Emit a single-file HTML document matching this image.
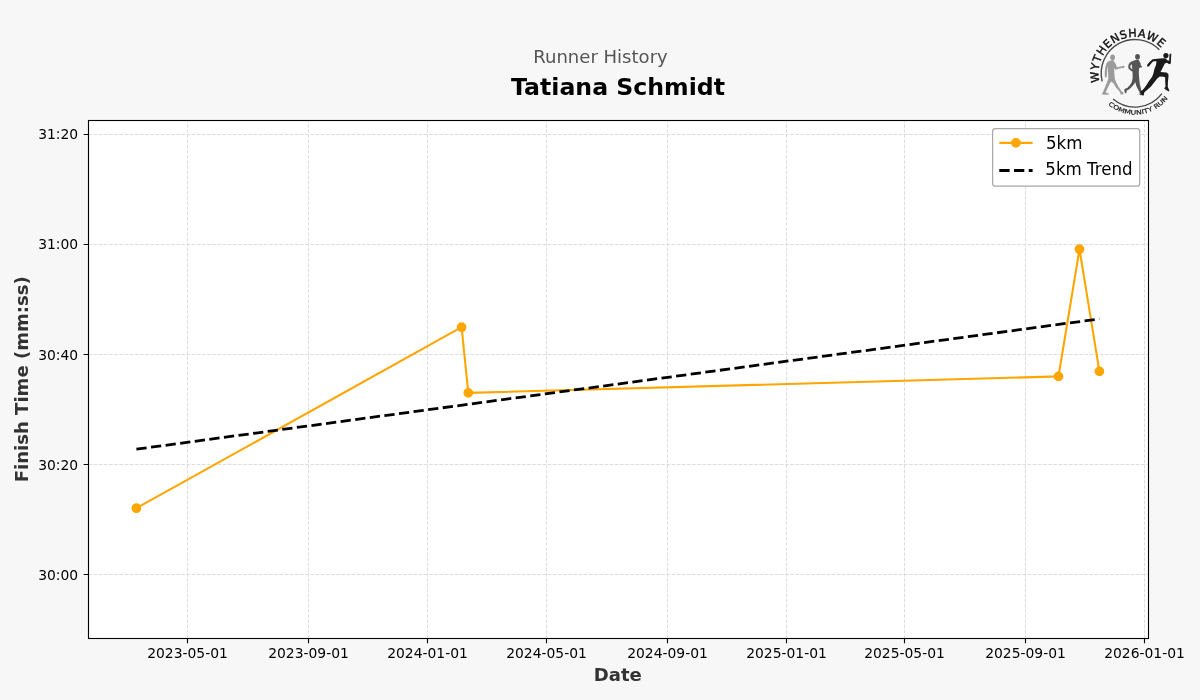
<!DOCTYPE html>
<html><head><meta charset="utf-8"><title>Runner History - Tatiana Schmidt</title>
<style>html,body{margin:0;padding:0;background:#f7f7f7;}svg{display:block;will-change:transform;}</style></head>
<body><svg width="1200" height="700" viewBox="0 0 1200 700">
<rect x="0" y="0" width="1200" height="700" fill="#f7f7f7"/>
<rect x="88.5" y="120.5" width="1060.0" height="518.0" fill="#fff"/>
<path d="M187.5 638.5V120.5M308.5 638.5V120.5M427.5 638.5V120.5M546.5 638.5V120.5M667.5 638.5V120.5M786.5 638.5V120.5M904.5 638.5V120.5M1025.5 638.5V120.5M1144.5 638.5V120.5M88.5 134.5H1148.5M88.5 244.5H1148.5M88.5 354.5H1148.5M88.5 464.5H1148.5M88.5 574.5H1148.5" stroke="#dcdcdc" stroke-width="0.97" stroke-dasharray="3.6 1.56" fill="none"/>
<path d="M136.4 508.2 L461.6 327.2 L468.3 392.9 L1058.5 376.4 L1079.5 249.2 L1099.4 371.4" stroke="#ffa500" stroke-width="2.08" fill="none" stroke-linejoin="round" stroke-linecap="square"/>
<path d="M136.4 449.2L1099.4 318.9" stroke="#000" stroke-width="2.78" stroke-dasharray="10.28 4.44" fill="none"/>
<circle cx="136.4" cy="508.2" r="4.17" fill="#ffa500" stroke="#ffa500" stroke-width="1.39"/>
<circle cx="461.6" cy="327.2" r="4.17" fill="#ffa500" stroke="#ffa500" stroke-width="1.39"/>
<circle cx="468.3" cy="392.9" r="4.17" fill="#ffa500" stroke="#ffa500" stroke-width="1.39"/>
<circle cx="1058.5" cy="376.4" r="4.17" fill="#ffa500" stroke="#ffa500" stroke-width="1.39"/>
<circle cx="1079.5" cy="249.2" r="4.17" fill="#ffa500" stroke="#ffa500" stroke-width="1.39"/>
<circle cx="1099.4" cy="371.4" r="4.17" fill="#ffa500" stroke="#ffa500" stroke-width="1.39"/>
<rect x="88.5" y="120.5" width="1060.0" height="518.0" fill="none" stroke="#000" stroke-width="1.11"/>
<path d="M187.5 638.5v4.86M308.5 638.5v4.86M427.5 638.5v4.86M546.5 638.5v4.86M667.5 638.5v4.86M786.5 638.5v4.86M904.5 638.5v4.86M1025.5 638.5v4.86M1144.5 638.5v4.86M88.5 134.5h-4.86M88.5 244.5h-4.86M88.5 354.5h-4.86M88.5 464.5h-4.86M88.5 574.5h-4.86" stroke="#000" stroke-width="1.11" fill="none"/>
<text x="187.5" y="657.8" font-family="DejaVu Sans" font-size="13.889" text-anchor="middle">2023-05-01</text>
<text x="308.5" y="657.8" font-family="DejaVu Sans" font-size="13.889" text-anchor="middle">2023-09-01</text>
<text x="427.5" y="657.8" font-family="DejaVu Sans" font-size="13.889" text-anchor="middle">2024-01-01</text>
<text x="546.5" y="657.8" font-family="DejaVu Sans" font-size="13.889" text-anchor="middle">2024-05-01</text>
<text x="667.5" y="657.8" font-family="DejaVu Sans" font-size="13.889" text-anchor="middle">2024-09-01</text>
<text x="786.5" y="657.8" font-family="DejaVu Sans" font-size="13.889" text-anchor="middle">2025-01-01</text>
<text x="904.5" y="657.8" font-family="DejaVu Sans" font-size="13.889" text-anchor="middle">2025-05-01</text>
<text x="1025.5" y="657.8" font-family="DejaVu Sans" font-size="13.889" text-anchor="middle">2025-09-01</text>
<text x="1144.5" y="657.8" font-family="DejaVu Sans" font-size="13.889" text-anchor="middle">2026-01-01</text>
<text x="78.2" y="138.7" font-family="DejaVu Sans" font-size="13.889" text-anchor="end">31:20</text>
<text x="78.2" y="248.7" font-family="DejaVu Sans" font-size="13.889" text-anchor="end">31:00</text>
<text x="78.2" y="359.5" font-family="DejaVu Sans" font-size="13.889" text-anchor="end">30:40</text>
<text x="78.2" y="469.5" font-family="DejaVu Sans" font-size="13.889" text-anchor="end">30:20</text>
<text x="78.2" y="579.5" font-family="DejaVu Sans" font-size="13.889" text-anchor="end">30:00</text>
<text x="617.8" y="680.6" font-family="DejaVu Sans" font-weight="bold" font-size="18.056" fill="#333" text-anchor="middle">Date</text>
<text transform="translate(27.9 379.3) rotate(-90)" x="0" y="0" font-family="DejaVu Sans" font-weight="bold" font-size="18.056" fill="#333" text-anchor="middle">Finish Time (mm:ss)</text>
<text x="600.5" y="62.8" font-family="DejaVu Sans" font-size="18.056" fill="#555" text-anchor="middle">Runner History</text>
<text x="618" y="94.9" font-family="DejaVu Sans" font-weight="bold" font-size="23.61" fill="#000" text-anchor="middle">Tatiana Schmidt</text>
<rect x="992.6" y="128.6" width="147.1" height="57.6" rx="2.8" fill="#fff" stroke="#a8a8a8" stroke-width="1.2"/>
<path d="M999.3 142.9H1032.6" stroke="#ffa500" stroke-width="2.08"/>
<circle cx="1015.95" cy="142.9" r="4.17" fill="#ffa500" stroke="#ffa500" stroke-width="1.39"/>
<path d="M999.3 170.5H1032.6" stroke="#000" stroke-width="2.78" stroke-dasharray="10.28 4.44"/>
<text transform="translate(1045.9 149) scale(1 1.08)" font-family="DejaVu Sans" font-size="16.667">5km</text>
<text transform="translate(1045.3 174.9) scale(1 1.08)" font-family="DejaVu Sans" font-size="16.667">5km Trend</text>
<g id="logo">
<path d="M1102.20 81.48A33.8 33.8 0 0 1 1159.31 49.82" stroke="#4a4a4a" stroke-width="1.4" fill="none"/>
<path d="M1113.09 99.04A33.8 33.8 0 0 0 1161.96 93.69" stroke="#4a4a4a" stroke-width="1.4" fill="none"/>
<g font-family="DejaVu Sans" font-size="11.2" fill="#111" stroke="#111" stroke-width="0.4" text-anchor="middle">
<text transform="translate(1098.64 76.74) rotate(-95.4)">W</text>
<text transform="translate(1098.99 67.25) rotate(-80.5)">Y</text>
<text transform="translate(1100.94 60.12) rotate(-68.8)">T</text>
<text transform="translate(1104.73 52.87) rotate(-56.0)">H</text>
<text transform="translate(1110.13 46.56) rotate(-42.9)">E</text>
<text transform="translate(1116.78 41.65) rotate(-29.9)">N</text>
<text transform="translate(1124.39 38.36) rotate(-16.9)">S</text>
<text transform="translate(1132.57 36.86) rotate(-3.8)">H</text>
<text transform="translate(1141.15 37.30) rotate(9.7)">A</text>
<text transform="translate(1150.59 40.28) rotate(25.3)">W</text>
<text transform="translate(1158.67 45.49) rotate(40.4)">E</text>
</g>
<g font-family="DejaVu Sans" font-size="7.75" fill="#111" stroke="#111" stroke-width="0.2" text-anchor="middle">
<text transform="translate(1110.22 106.42) rotate(36.8) scale(1 0.8)">C</text>
<text transform="translate(1115.06 109.53) rotate(28.8) scale(1 0.8)">O</text>
<text transform="translate(1120.87 112.17) rotate(20.0) scale(1 0.8)">M</text>
<text transform="translate(1127.32 113.94) rotate(10.7) scale(1 0.8)">M</text>
<text transform="translate(1133.45 114.63) rotate(2.1) scale(1 0.8)">U</text>
<text transform="translate(1139.18 114.45) rotate(-5.8) scale(1 0.8)">N</text>
<text transform="translate(1143.17 113.84) rotate(-11.4) scale(1 0.8)">I</text>
<text transform="translate(1146.58 113.01) rotate(-16.3) scale(1 0.8)">T</text>
<text transform="translate(1151.04 111.42) rotate(-22.8) scale(1 0.8)">Y</text>
<text transform="translate(1157.67 107.89) rotate(-33.2) scale(1 0.8)">R</text>
<text transform="translate(1162.08 104.56) rotate(-40.9) scale(1 0.8)">U</text>
<text transform="translate(1166.14 100.52) rotate(-48.8) scale(1 0.8)">N</text>
</g>
<path fill="#9b9b9b" d="M1111.3 60.3L1107.6 61.8L1106.4 63.5L1105.2 68L1104.8 72L1104.8 76.2L1105.4 77.6L1106.6 77.2L1106.9 74L1107.3 69.5L1107.9 66L1108 70L1108.2 75L1108.4 78.5L1107.5 81L1105.5 86L1103.8 90L1102.9 92.6L1101.9 93.5L1102.2 94.6L1108.6 94.8L1108.8 93.8L1105.8 92.5L1107.2 89L1109.6 84L1111.3 81.5L1113.2 83L1116 87.5L1119.5 91.5L1120.4 93.2L1120.6 94.4L1123.6 94.2L1123.2 92.2L1121.6 91.4L1118.2 86.2L1116 82L1114.8 78.5L1114.3 73L1114.2 68L1115.2 69.4L1116.8 69.6L1120 68.2L1123.5 67.9L1124.6 67.2L1124.3 65.8L1122.8 66L1118 67L1117 67.4L1115.8 64L1114.3 62L1113.6 60.3Z"/>
<ellipse cx="1112.6" cy="57.3" rx="2.4" ry="2.9" fill="#9b9b9b"/>
<path fill="#555" d="M1136.2 59.8L1131.5 61.4L1129.6 62.8L1128.4 65L1128.3 68.2L1130.5 70.6L1132.2 71.6L1133.3 70.8L1132.5 69.6L1130.4 67.8L1130.4 65.5L1131.6 64L1132.2 68L1132.6 74L1132.6 78.5L1131.6 82.5L1129.5 85.5L1127.2 88L1125.4 88.4L1124.2 89.8L1124.8 92.5L1125.8 93.6L1126.6 92.2L1126.8 90.4L1129 89.4L1131.6 87L1134.2 84L1135.3 82L1136.3 86L1138.6 90.5L1139.6 92.3L1139.6 95L1143.8 95.6L1144 94.2L1141.6 92.2L1140.8 88L1139.8 84L1139.3 79.5L1138.8 74L1139 68.5L1140 67.5L1141.8 67.6L1142 66.2L1140.8 65.5L1140.6 63.2L1139.4 61.2L1138.6 59.8Z"/>
<ellipse cx="1137.5" cy="56.8" rx="2.4" ry="2.8" fill="#555"/>
<path fill="#1a1a1a" d="M1164 58.3L1160 58.6L1155 58.9L1152.6 59.3L1149.5 62L1147.4 64.5L1147 66.2L1148.2 66.8L1149.6 65.4L1152 62.4L1153.6 61.3L1156.5 61.2L1156 65L1154.4 69L1153.4 73.5L1152 77L1149 81L1146.5 85L1144 88.6L1142.5 90L1140.6 91.2L1140.4 93L1142.8 95.6L1143.8 94.6L1144.4 92.3L1147.6 89.6L1151 86.5L1154.5 82L1157.5 78.2L1159.8 76.6L1163.5 76.8L1165.2 77.4L1165.2 82L1165.5 86.6L1164.2 88.5L1166.5 90.2L1168.9 91.6L1169.4 90.4L1167.8 87L1167.9 82L1168.5 76.5L1168.4 74L1166.5 72.6L1163 72.2L1160.5 72L1162.6 68L1164.8 63.5L1167 62.8L1169.3 64.2L1170.8 63.6L1171 59L1171.2 55.8L1171.3 53.8L1169.6 53.8L1169.4 56.5L1169.2 60.6L1167.8 60.4L1166.6 59.4L1166 58.4Z"/>
<circle cx="1165.9" cy="55.6" r="2.6" fill="#1a1a1a"/>

</g>
</svg></body></html>
